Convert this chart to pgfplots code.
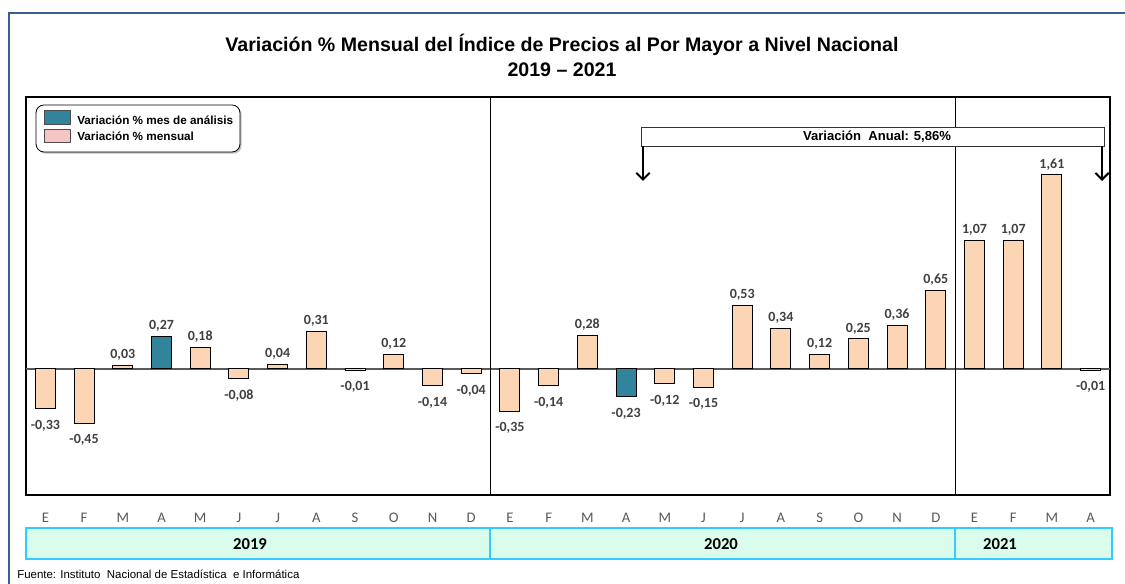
\documentclass[border=0pt]{standalone}
\usepackage{fontspec}
\setmainfont{Liberation Sans}
\newfontfamily\calfont{Carlito}
\usepackage{pgfplots}
\usepackage{pgfplotstable}
\pgfplotsset{compat=1.18}
\usetikzlibrary{arrows.meta,shadows}

\definecolor{peach}{RGB}{252,213,180}
\definecolor{tealbar}{RGB}{49,132,155}
\definecolor{legpink}{RGB}{247,196,196}
\definecolor{labgray}{RGB}{64,64,64}
\definecolor{monthgray}{RGB}{89,89,89}
\definecolor{frameblue}{RGB}{59,94,145}
\definecolor{bandfill}{RGB}{218,252,236}
\definecolor{bandline}{RGB}{51,204,255}

% monthly variation, months numbered 0..27 (Jan 2019 .. Apr 2021)
\pgfplotstableread{
x v
0 -0.33
1 -0.45
2 0.03
4 0.18
5 -0.08
6 0.04
7 0.31
8 -0.01
9 0.12
10 -0.14
11 -0.04
12 -0.35
13 -0.14
14 0.28
16 -0.12
17 -0.15
18 0.53
19 0.34
20 0.12
21 0.25
22 0.36
23 0.65
24 1.07
25 1.07
26 1.61
27 -0.01
}\mensual
% analysis month (April)
\pgfplotstableread{
x v
3 0.27
15 -0.23
}\analisis

\begin{document}
\begin{tikzpicture}
\useasboundingbox (0,0) rectangle (843.75pt,438pt);
\fill[white] (0,0) rectangle (843.75pt,438pt);

\begin{axis}[
    at={(19.5pt,66.75pt)}, anchor=south west,
    scale only axis, width=813pt, height=298.5pt,
    xmin=-0.5, xmax=27.5, ymin=-1.046, ymax=2.257,
    axis line style={black, line width=0.9pt},
    ytick=\empty,
    xtick={0,...,27},
    xticklabels={E,F,M,A,M,J,J,A,S,O,N,D,E,F,M,A,M,J,J,A,S,O,N,D,E,F,M,A},
    major tick length=0pt,
    xticklabel style={font=\calfont\fontsize{11}{13}\selectfont, text=monthgray, yshift=-10pt},
    ybar, bar width=15pt, bar shift=0pt,
    visualization depends on={rawy \as \yval},
    nodes near coords={\pgfmathprintnumber[fixed,fixed zerofill,precision=2,use comma,assume math mode=true]{\pgfplotspointmeta}},
    every node near coord/.append style={font=\calfont\bfseries\fontsize{10.5}{12}\selectfont, text=labgray,
        yshift={ifthenelse(\yval<0,-5,0)}},
    clip=false,
]
\draw[gray!70!black, line width=0.9pt] (axis cs:-0.5,0) -- (axis cs:27.5,0);
\addplot[draw=black, line width=0.7pt, fill=peach] table[x=x,y=v] {\mensual};
\addplot[draw=black, line width=0.7pt, fill=tealbar] table[x=x,y=v] {\analisis};
\draw[black, line width=0.7pt] (axis cs:11.5,-1.046) -- (axis cs:11.5,2.257);
\draw[black, line width=0.7pt] (axis cs:23.5,-1.046) -- (axis cs:23.5,2.257);
\end{axis}

\begin{scope}[x=0.75pt,y=-0.75pt,yshift=438pt]
  % outer frame
  \draw[frameblue, line width=2.2pt] (9,600) -- (9,13) -- (1140,13);
  % title
  \node[font=\bfseries\fontsize{14.7}{17}\selectfont] at (562,45)
    {Variación \% Mensual del Índice de Precios al Por Mayor a Nivel Nacional};
  \node[font=\bfseries\fontsize{14.7}{17}\selectfont] at (562,70) {2019 – 2021};
  % legend
  \draw[black, line width=0.6pt, fill=white, rounded corners=6pt,
        drop shadow={shadow xshift=1.2pt, shadow yshift=-1.2pt, opacity=0.5}]
        (36,105) rectangle (240,152);
  \draw[black!70, line width=0.5pt, fill=tealbar] (44,110) rectangle (70,124);
  \draw[black!70, line width=0.5pt, fill=legpink] (44,129) rectangle (70,142);
  \node[anchor=west, inner sep=0pt, font=\bfseries\fontsize{8.8}{10}\selectfont] at (77,120) {Variación \% mes de análisis};
  \node[anchor=west, inner sep=0pt, font=\bfseries\fontsize{8.8}{10}\selectfont] at (77,136) {Variación \% mensual};
  % annual variation
  \draw[black!80, line width=0.6pt, fill=white] (641,127) rectangle (1104,146);
  \node[font=\bfseries\fontsize{9.8}{12}\selectfont] at (877,137) {Variación~ Anual: 5,86\%};
  \draw[black, line width=1.5pt, -{Straight Barb[length=5pt,width=10pt]}] (643,146) -- (643,181);
  \draw[black, line width=1.5pt, -{Straight Barb[length=5pt,width=10pt]}] (1102,146) -- (1102,181);
  % year band
  \draw[bandline, line width=0.9pt, fill=bandfill] (26,528) rectangle (490,559);
  \draw[bandline, line width=0.9pt, fill=bandfill] (490,528) rectangle (955,559);
  \draw[bandline, line width=0.9pt, fill=bandfill] (955,528) rectangle (1112,559);
  \node[font=\calfont\bfseries\fontsize{12.5}{14}\selectfont] at (250,544) {2019};
  \node[font=\calfont\bfseries\fontsize{12.5}{14}\selectfont] at (721,544) {2020};
  \node[font=\calfont\bfseries\fontsize{12.5}{14}\selectfont] at (1000,544) {2021};
  % source
  \node[anchor=west, inner sep=0pt, font=\fontsize{8.6}{10}\selectfont] at (17,574)
    {Fuente: Instituto~ Nacional de Estadística~ e Informática};
\end{scope}
\end{tikzpicture}
\end{document}
